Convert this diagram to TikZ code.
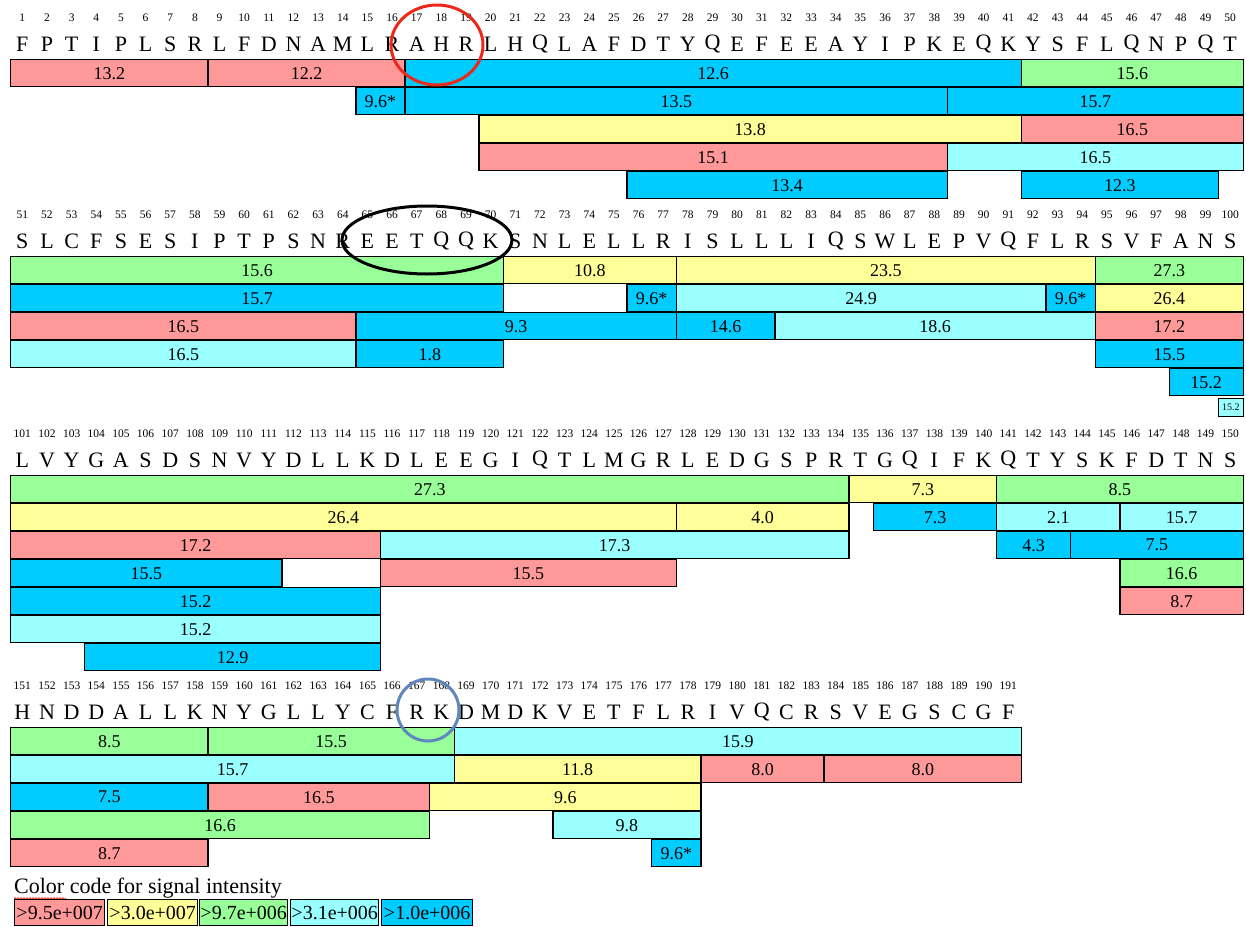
\documentclass[tikz,border=0pt]{standalone}
\usepackage{fontspec}
\setmainfont{Liberation Serif}
\usetikzlibrary{decorations.pathmorphing}
\definecolor{cr}{RGB}{255,153,153}
\definecolor{cy}{RGB}{255,255,153}
\definecolor{cg}{RGB}{153,255,153}
\definecolor{cc}{RGB}{153,255,255}
\definecolor{cb}{RGB}{0,204,255}
\definecolor{circred}{RGB}{235,40,25}
\definecolor{circblue}{RGB}{95,135,190}
\newcommand\colw{24.65}
\newcommand\xorig{10}
\tikzset{
  segbox/.style={draw=black, line width=1.4pt, inner sep=0pt, minimum height=27pt,
    anchor=north west, font=\fontsize{18}{18}\selectfont},
  aa/.style={inner sep=0pt, font=\fontsize{22}{22}\selectfont},
  resnum/.style={inner sep=0pt, font=\fontsize{11.5}{12}\selectfont},
  legbox/.style={draw=black, line width=1.4pt, inner sep=0pt, minimum height=26pt,
    anchor=north west, font=\fontsize{20}{20}\selectfont},
  mark circle/.style={line width=3pt}
}
\newcommand\seqrow[3]{% #1 offset, #2 block top, #3 letters
  \foreach \ch [count=\i] in {#3} {
    \pgfmathtruncatemacro\num{\i+#1}
    \node[aa] (a\num) at ({\xorig+(\i-0.5)*\colw},{#2-15}) {\ch};
    \node[resnum] (n\num) at ({\xorig+(\i-0.5)*\colw},{#2-41}) {\num};
  }}
\begin{document}
\begin{tikzpicture}[x=1pt,y=-1pt]
\useasboundingbox (0,0) rectangle (1246,926);
\fill[white] (0,0) rectangle (1246,926);

% sequence and residue numbers
\seqrow{0}{59}{F,P,T,I,P,L,S,R,L,F,D,N,A,M,L,R,A,H,R,L,H,Q,L,A,F,D,T,Y,Q,E,F,E,E,A,Y,I,P,K,E,Q,K,Y,S,F,L,Q,N,P,Q,T}
\seqrow{50}{256}{S,L,C,F,S,E,S,I,P,T,P,S,N,R,E,E,T,Q,Q,K,S,N,L,E,L,L,R,I,S,L,L,L,I,Q,S,W,L,E,P,V,Q,F,L,R,S,V,F,A,N,S}
\seqrow{100}{475}{L,V,Y,G,A,S,D,S,N,V,Y,D,L,L,K,D,L,E,E,G,I,Q,T,L,M,G,R,L,E,D,G,S,P,R,T,G,Q,I,F,K,Q,T,Y,S,K,F,D,T,N,S}
\seqrow{150}{727}{H,N,D,D,A,L,L,K,N,Y,G,L,L,Y,C,F,R,K,D,M,D,K,V,E,T,F,L,R,I,V,Q,C,R,S,V,E,G,S,C,G,F}

% peptide segments: block top / row / first / last / colour / label
\foreach \T/\r/\s/\e/\c/\l in {
  59/1/1/8/cr/13.2, 59/1/9/16/cr/12.2, 59/1/17/41/cb/12.6, 59/1/42/50/cg/15.6,
  59/2/15/16/cb/9.6*, 59/2/17/38/cb/13.5, 59/2/39/50/cb/15.7,
  59/3/20/41/cy/13.8, 59/3/42/50/cr/16.5,
  59/4/20/38/cr/15.1, 59/4/39/50/cc/16.5,
  59/5/26/38/cb/13.4, 59/5/42/49/cb/12.3,
  256/1/1/20/cg/15.6, 256/1/21/27/cy/10.8, 256/1/28/44/cy/23.5, 256/1/45/50/cg/27.3,
  256/2/1/20/cb/15.7, 256/2/26/27/cb/9.6*, 256/2/28/42/cc/24.9, 256/2/43/44/cb/9.6*, 256/2/45/50/cy/26.4,
  256/3/1/14/cr/16.5, 256/3/15/27/cb/9.3, 256/3/28/31/cb/14.6, 256/3/32/44/cc/18.6, 256/3/45/50/cr/17.2,
  256/4/1/14/cc/16.5, 256/4/15/20/cb/1.8, 256/4/45/50/cb/15.5,
  256/5/48/50/cb/15.2,
  475/1/1/34/cg/27.3, 475/1/35/40/cy/7.3, 475/1/41/50/cg/8.5,
  475/2/1/27/cy/26.4, 475/2/28/34/cy/4.0, 475/2/36/40/cb/7.3, 475/2/41/45/cc/2.1, 475/2/46/50/cc/15.7,
  475/3/1/15/cr/17.2, 475/3/16/34/cc/17.3, 475/3/41/43/cb/4.3, 475/3/44/50/cb/7.5,
  475/4/1/11/cb/15.5, 475/4/16/27/cr/15.5, 475/4/46/50/cg/16.6,
  475/5/1/15/cb/15.2, 475/5/46/50/cr/8.7,
  475/6/1/15/cc/15.2,
  475/7/4/15/cb/12.9,
  727/1/1/8/cg/8.5, 727/1/9/18/cg/15.5, 727/1/19/41/cc/15.9,
  727/2/1/18/cc/15.7, 727/2/19/28/cy/11.8, 727/2/29/33/cr/8.0, 727/2/34/41/cr/8.0,
  727/3/1/8/cb/7.5, 727/3/9/17/cr/16.5, 727/3/18/28/cy/9.6,
  727/4/1/17/cg/16.6, 727/4/23/28/cc/9.8,
  727/5/1/8/cr/8.7, 727/5/27/28/cb/9.6*}
{
  \node[segbox, fill=\c, minimum width={(\e-\s+1)*\colw*1pt}] (s-\T-\r-\s)
    at ({\xorig+(\s-1)*\colw},{\T+(\r-1)*28}) {\l};
}
% tiny segment at residue 100
\node[segbox, fill=cc, minimum height=18pt, minimum width=\colw pt,
  font=\fontsize{10}{10}\selectfont] (s-256-6-50) at ({\xorig+49*\colw},398) {15.2};

% highlight circles
\draw[mark circle, circred] (437,45) ellipse [x radius=46, y radius=40];
\draw[mark circle, black] (427,240) ellipse [x radius=85, y radius=34];
\draw[mark circle, circblue] (428,710) circle [radius=31];

% legend
\node[anchor=base west, inner sep=0pt, font=\fontsize{22}{22}\selectfont] (legtitle) at (14,893) {Color code for signal intensity};
\draw[circred, line width=0.7pt, decorate, decoration={snake, amplitude=0.9pt, segment length=3pt}] (14,898.5) -- (66,898.5);
\node[legbox, fill=cr, minimum width=90pt] (leg1) at (14,899) {>9.5e+007};
\node[legbox, fill=cy, minimum width=90pt] (leg2) at (107,899) {>3.0e+007};
\node[legbox, fill=cg, minimum width=88pt] (leg3) at (199,899) {>9.7e+006};
\node[legbox, fill=cc, minimum width=88pt] (leg4) at (290,899) {>3.1e+006};
\node[legbox, fill=cb, minimum width=91pt] (leg5) at (381,899) {>1.0e+006};
\end{tikzpicture}
\end{document}
